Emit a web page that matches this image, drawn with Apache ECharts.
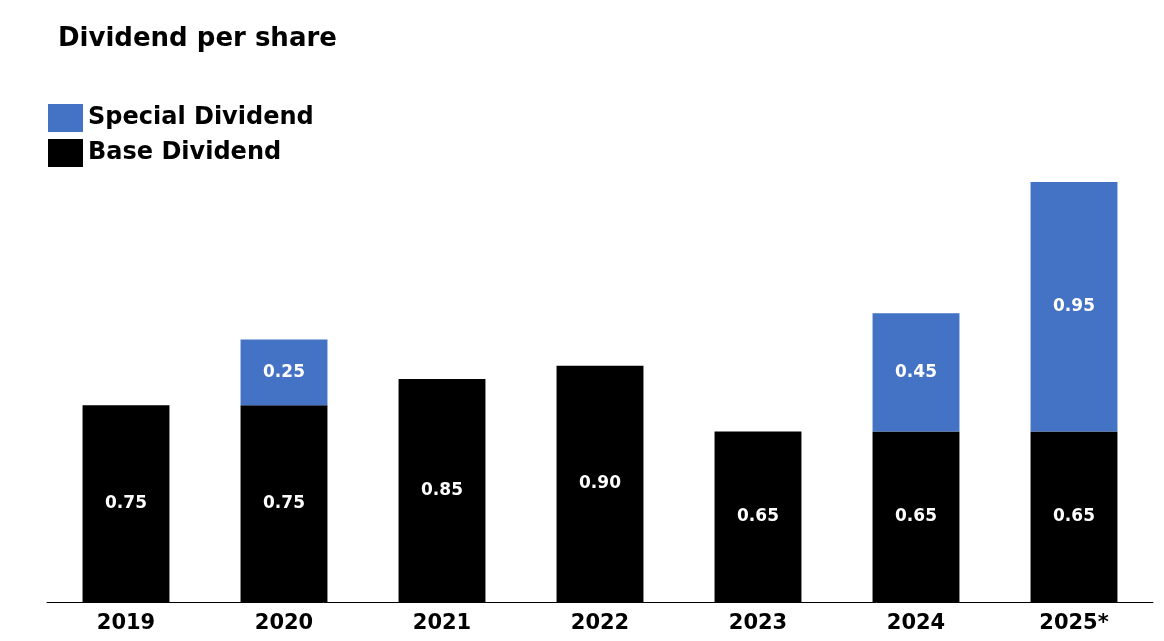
<!DOCTYPE html>
<html>
<head>
<meta charset="utf-8">
<script src="https://cdn.jsdelivr.net/npm/echarts@6/dist/echarts.min.js"></script>
<style>html,body{margin:0;padding:0;background:#fff;}#c{width:1164px;height:641px;}</style>
</head>
<body>
<div id="c"></div>
<script>
const categories = ['2019','2020','2021','2022','2023','2024','2025*'];
const baseDividend = [0.75, 0.75, 0.85, 0.90, 0.65, 0.65, 0.65];
const specialDividend = [null, 0.25, null, null, null, 0.45, 0.95];

const FONT = '"DejaVu Sans", sans-serif';
const chart = echarts.init(document.getElementById('c'));
const lbl = {
  show: true, position: 'inside', color: '#fff', fontFamily: FONT,
  fontWeight: 'bold', fontSize: 17,
  formatter: p => (p.value == null ? '' : Number(p.value).toFixed(2))
};
chart.setOption({
  animation: false,
  title: {
    text: 'Dividend per share', left: 53, top: 21,
    textStyle: { fontFamily: FONT, fontWeight: 'bold', fontSize: 26, color: '#000' }
  },
  legend: {
    data: ['Special Dividend', 'Base Dividend'],
    orient: 'vertical', left: 43, top: 99, itemWidth: 35, itemHeight: 28, itemGap: 7,
    icon: 'rect',
    textStyle: { fontFamily: FONT, fontWeight: 'bold', fontSize: 24, color: '#000', padding: [3, 0, 0, 0] },
    itemStyle: { borderWidth: 0 }
  },
  grid: { left: 47, right: 11, top: 182, bottom: 39 },
  xAxis: {
    type: 'category', data: categories,
    axisLine: { lineStyle: { color: '#000', width: 1 } },
    axisTick: { show: false },
    axisLabel: { fontFamily: FONT, fontWeight: 'bold', fontSize: 21, color: '#000', margin: 11 }
  },
  yAxis: { type: 'value', min: 0, max: 1.6, show: false, splitLine: { show: false } },
  series: [
    { name: 'Base Dividend', type: 'bar', stack: 'd', data: baseDividend, barWidth: '55%',
      itemStyle: { color: '#000' }, label: lbl },
    { name: 'Special Dividend', type: 'bar', stack: 'd', data: specialDividend, barWidth: '55%',
      itemStyle: { color: '#4472C4' }, label: lbl }
  ]
});
</script>
</body>
</html>
